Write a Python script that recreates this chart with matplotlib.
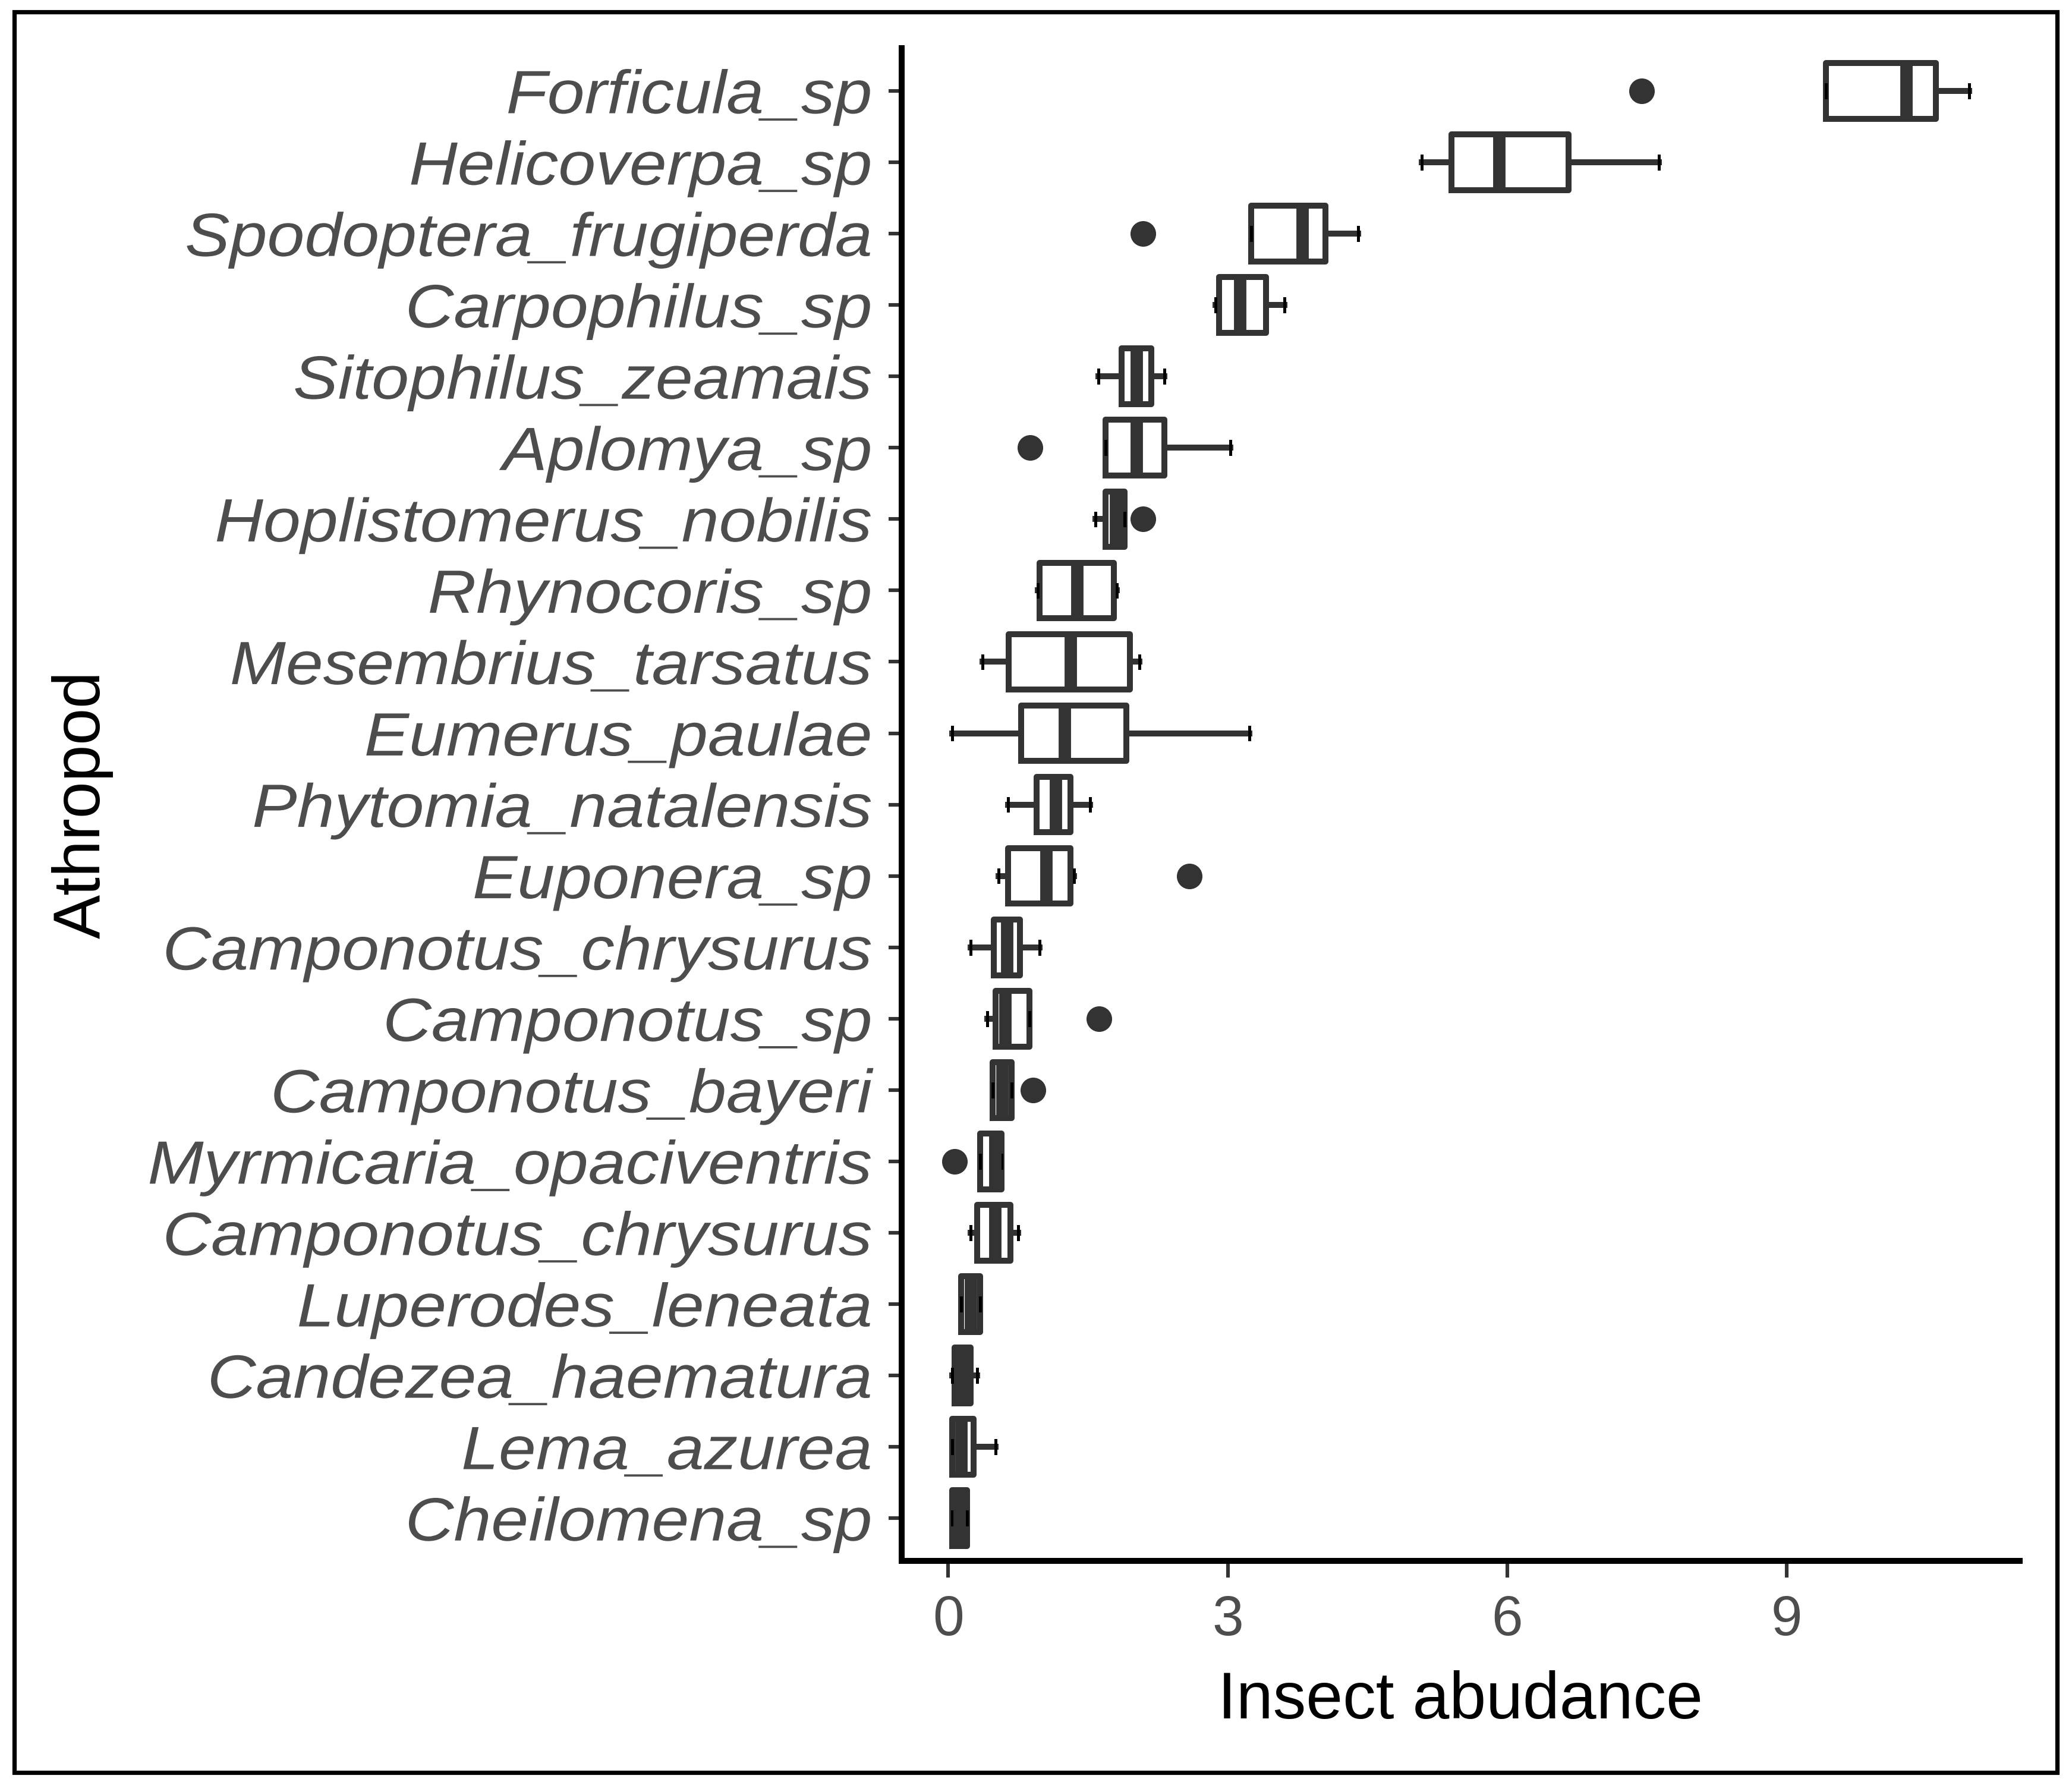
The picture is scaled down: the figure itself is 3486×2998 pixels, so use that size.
import matplotlib
matplotlib.use("Agg")
import matplotlib.pyplot as plt
from matplotlib.patches import Rectangle
from matplotlib.patheffects import AbstractPathEffect
from matplotlib.transforms import Affine2D

plt.rcParams['font.family'] = ['Liberation Sans', 'DejaVu Sans']

# species, top to bottom as drawn
species = ["Forficula_sp", "Helicoverpa_sp", "Spodoptera_frugiperda", "Carpophilus_sp",
           "Sitophilus_zeamais", "Aplomya_sp", "Hoplistomerus_nobilis", "Rhynocoris_sp",
           "Mesembrius_tarsatus", "Eumerus_paulae", "Phytomia_natalensis", "Euponera_sp",
           "Camponotus_chrysurus", "Camponotus_sp", "Camponotus_bayeri",
           "Myrmicaria_opaciventris", "Camponotus_chrysurus", "Luperodes_leneata",
           "Candezea_haematura", "Lema_azurea", "Cheilomena_sp"]

# box statistics
whis_lo = [9.42, 5.08, 3.25, 2.87, 1.61, 1.69, 1.58, 0.96, 0.37, 0.04, 0.64,
           0.54, 0.24, 0.42, 0.48, 0.34, 0.24, 0.14, 0.04, 0.04, 0.04]
q1 = [9.42, 5.40, 3.25, 2.91, 1.86, 1.69, 1.69, 0.98, 0.65, 0.78, 0.95,
      0.64, 0.49, 0.51, 0.48, 0.34, 0.31, 0.14, 0.07, 0.04, 0.04]
median = [10.28, 5.91, 3.80, 3.13, 2.02, 2.02, 1.80, 1.38, 1.31, 1.25, 1.15,
          1.05, 0.63, 0.61, 0.58, 0.50, 0.50, 0.24, 0.15, 0.14, 0.12]
q3 = [10.60, 6.66, 4.05, 3.41, 2.18, 2.32, 1.89, 1.78, 1.95, 1.91, 1.31,
      1.31, 0.77, 0.87, 0.68, 0.57, 0.67, 0.34, 0.24, 0.27, 0.20]
whis_hi = [10.96, 7.63, 4.40, 3.61, 2.32, 3.03, 1.89, 1.81, 2.05, 3.23, 1.52,
           1.35, 0.98, 0.87, 0.68, 0.57, 0.75, 0.34, 0.31, 0.51, 0.20]
outliers = [[7.44], [], [2.09], [], [], [0.88], [2.09], [], [], [], [],
            [2.59], [], [1.62], [0.91], [0.07], [], [], [], [], []]


class Widen(AbstractPathEffect):
    # stretch a text horizontally about its right edge (mimics the wide tracking)
    def __init__(self, factor):
        super().__init__()
        self.factor = factor

    def draw_path(self, renderer, gc, tpath, affine, rgbFace=None):
        x1 = tpath.get_extents().x1
        stretch = Affine2D().translate(-x1, 0).scale(self.factor, 1).translate(x1, 0)
        renderer.draw_path(gc, tpath, stretch + affine, rgbFace)


n = len(species)
positions = [n - i for i in range(n)]

stats = []
for i in range(n):
    stats.append({"med": median[i], "q1": q1[i], "q3": q3[i],
                  "whislo": whis_lo[i], "whishi": whis_hi[i],
                  "fliers": outliers[i]})

fig = plt.figure(figsize=(17.435, 14.99), dpi=200)
ax = fig.add_axes([0.435, 0.124, 0.5395, 0.849])

dark = "#333333"
ax.bxp(stats, positions=positions, orientation="horizontal", widths=0.78,
       capwidths=0.18, patch_artist=False,
       boxprops=dict(color=dark, linewidth=3.6),
       medianprops=dict(color=dark, linewidth=7.5, solid_capstyle="butt"),
       whiskerprops=dict(color=dark, linewidth=3.6),
       capprops=dict(color="black", linewidth=1.8),
       flierprops=dict(marker="o", markerfacecolor=dark, markeredgecolor=dark,
                       markersize=14.5))

ax.set_xlim(-0.5, 11.5)
ax.set_ylim(0.4, 21.6)
ax.set_xticks([0, 3, 6, 9])
ax.set_yticks(positions)
ax.set_yticklabels(species, fontstyle="italic", fontsize=37, color="#4d4d4d")
for lab in ax.get_yticklabels():
    lab.set_path_effects([Widen(1.1)])
ax.tick_params(axis="x", labelsize=34, labelcolor="#4d4d4d", length=10, width=2.2,
               color=dark, pad=10)
ax.tick_params(axis="y", length=8, width=2.2, color=dark, pad=10)

for side in ["top", "right"]:
    ax.spines[side].set_visible(False)
for side in ["left", "bottom"]:
    ax.spines[side].set_linewidth(3.6)
    ax.spines[side].set_color("black")

ax.set_xlabel("Insect abudance", fontsize=40, labelpad=14)
ax.set_ylabel("Athropod", fontsize=40)
ax.yaxis.set_label_coords(-0.705, 0.5)

# outer frame around the whole picture
fig.patches.append(Rectangle((0.0069, 0.0053), 0.9856, 0.988, transform=fig.transFigure,
                             fill=False, edgecolor="black", linewidth=2.6))

fig.savefig("out.png", dpi=200)
